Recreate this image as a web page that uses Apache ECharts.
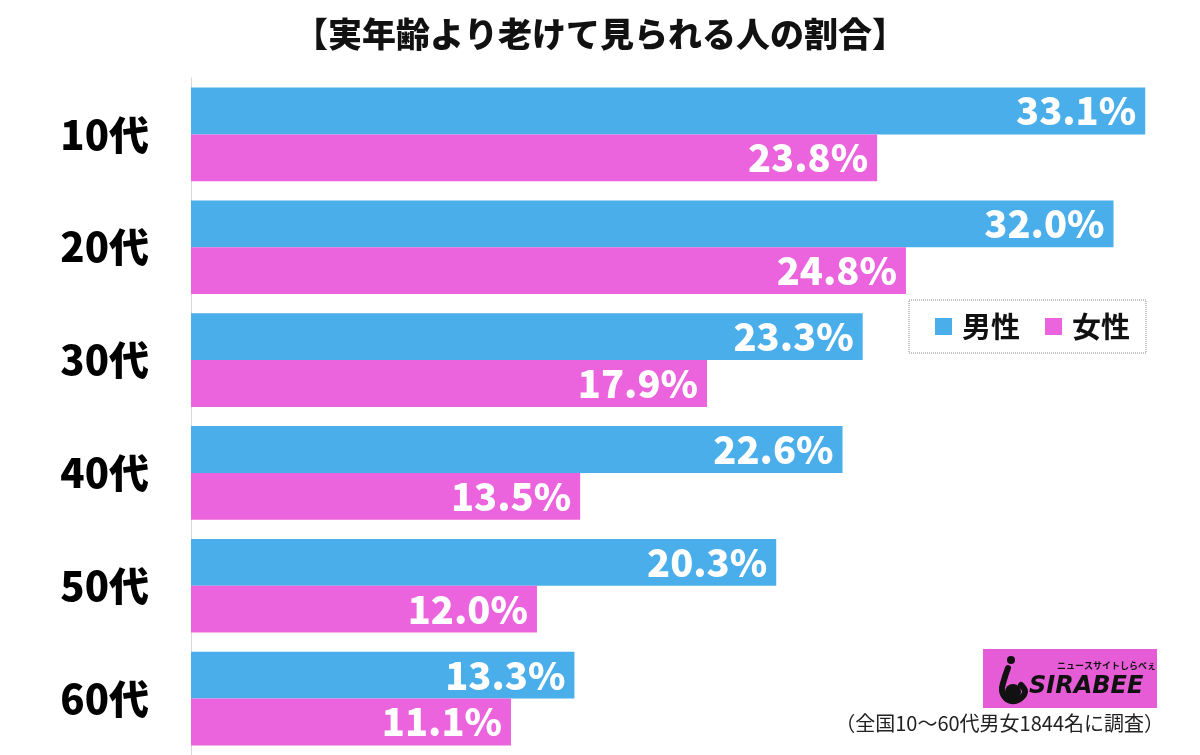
<!DOCTYPE html>
<html>
<head>
<meta charset="utf-8">
<script src="https://cdn.jsdelivr.net/npm/echarts@6/dist/echarts.min.js"></script>
<style>html,body{margin:0;padding:0;background:#fff;}#c{width:1200px;height:755px;}</style>
</head>
<body>
<div id="c"></div>
<script>
const categories = ['10代', '20代', '30代', '40代', '50代', '60代'];
const male = [33.1, 32.0, 23.3, 22.6, 20.3, 13.3];
const female = [23.8, 24.8, 17.9, 13.5, 12.0, 11.1];
const seriesNames = ['男性', '女性'];
const titleText = '【実年齢より老けて見られる人の割合】';
const footnote = '（全国10〜60代男女1844名に調査）';

const FONT = '"Noto Sans CJK JP", "Noto Sans", sans-serif';
const BLUE = '#4aaeea';
const PINK = '#eb63dd';

const chart = echarts.init(document.getElementById('c'));
const labelCfg = {
  show: true,
  position: 'insideRight',
  distance: 9,
  color: '#fff',
  fontFamily: FONT,
  fontWeight: 900,
  fontSize: 38,
  formatter: p => p.value.toFixed(1) + '%'
};
chart.setOption({
  backgroundColor: '#fff',
  animation: false,
  title: {
    text: titleText,
    left: 'center',
    top: 12,
    textStyle: { fontFamily: FONT, fontWeight: 900, fontSize: 34, color: '#111' }
  },
  legend: {
    data: seriesNames,
    left: 909,
    top: 300,
    orient: 'horizontal',
    icon: 'rect',
    itemWidth: 17,
    itemHeight: 17,
    itemGap: 25,
    padding: [12, 16, 12, 26],
    borderColor: '#888',
    borderWidth: 1,
    borderType: 'dotted',
    textStyle: { fontFamily: FONT, fontWeight: 'bold', fontSize: 29, color: '#111', padding: [0, 0, 0, 5] }
  },
  grid: { left: 191, top: 78, height: 678, width: 1011 },
  xAxis: {
    type: 'value', min: 0, max: 35, show: false
  },
  yAxis: {
    type: 'category',
    data: categories,
    inverse: true,
    axisLine: { show: true, lineStyle: { color: '#d8d8d8', width: 1 } },
    axisTick: { show: false },
    axisLabel: { margin: 42, color: '#000', fontFamily: FONT, fontWeight: 900, fontSize: 40 }
  },
  series: [
    { name: seriesNames[0], type: 'bar', data: male, itemStyle: { color: BLUE }, barGap: '0%', barCategoryGap: '17%', label: labelCfg },
    { name: seriesNames[1], type: 'bar', data: female, itemStyle: { color: PINK }, barGap: '0%', barCategoryGap: '17%', label: labelCfg }
  ],
  graphic: [
    { type: 'rect', shape: { x: 983, y: 649, width: 174, height: 59 }, style: { fill: '#e65bd6' } },
    { type: 'text', left: 1057, top: 661, style: { text: 'ニュースサイトしらべぇ', font: 'bold 9px ' + FONT, fill: '#111' } },
    { type: 'text', left: 1029, top: 675, style: { text: 'SIRABEE', font: 'italic bold 24px "DejaVu Sans", sans-serif', fill: '#111' } },
    { type: 'circle', shape: { cx: 1011, cy: 660, r: 4 }, style: { fill: '#111' } },
    { type: 'polyline', shape: { points: [[1008, 668], [1004, 680], [1002, 691], [1008, 700], [1018, 700], [1025, 692], [1021, 685]], smooth: 0.4 }, style: { stroke: '#111', lineWidth: 6, fill: null, lineCap: 'round' } },
    { type: 'circle', shape: { cx: 1013, cy: 692, r: 8 }, style: { fill: '#111' } },
    { type: 'text', right: 36, top: 713, style: { text: footnote, font: '20px ' + FONT, fill: '#222' } }
  ]
});
</script>
</body>
</html>
